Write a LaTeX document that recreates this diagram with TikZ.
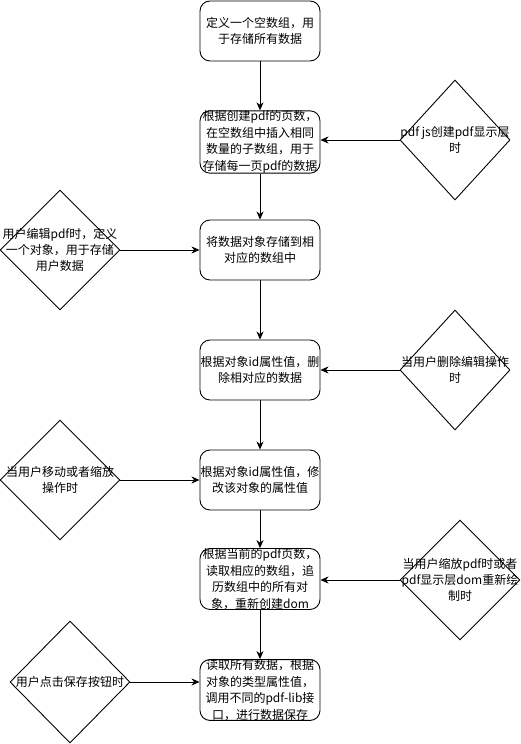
\documentclass[tikz,border=0pt]{standalone}
\usepackage{fontspec}
\setmainfont{Noto Sans CJK SC}
\usetikzlibrary{arrows.meta,shapes.geometric}

\begin{document}
\begin{tikzpicture}[x=1pt,y=-1pt,line width=0.9pt,
    box/.style={draw,rounded corners=10pt,minimum width=120pt,minimum height=60pt,
        inner sep=0pt,align=center,font=\fontsize{12}{16.5}\selectfont},
    cond/.style={draw,diamond,minimum width=110pt,minimum height=120pt,inner sep=0pt},
    txt/.style={align=center,inner sep=0pt,font=\fontsize{12}{16}\selectfont},
    flow/.style={-{Stealth[length=8pt,width=7pt,inset=2.5pt]}}]
    \useasboundingbox (0,0) rectangle (521,744);

    % main column
    \node[box] (b1) at (260, 31) {定义一个空数组，用\\于存储所有数据};
    \node[box,minimum height=62pt] (b2) at (260,142) {根据创建pdf的页数，\\在空数组中插入相同\\数量的子数组，用于\\存储每一页pdf的数据};
    \node[box] (b3) at (260,250) {将数据对象存储到相\\对应的数组中};
    \node[box] (b4) at (260,370) {根据对象id属性值，删\\除相对应的数据};
    \node[box] (b5) at (260,480) {根据对象id属性值，修\\改该对象的属性值};
    \node[box] (b6) at (260,579) {根据当前的pdf页数，\\读取相应的数组，追\\历数组中的所有对\\象，重新创建dom};
    \node[box] (b7) at (260,690) {读取所有数据，根据\\对象的类型属性值，\\调用不同的pdf-lib接\\口，进行数据保存};

    % conditions
    \node[cond] (r1) at (455,140) {};
    \node[cond,minimum width=120pt] (l1) at ( 60,250) {};
    \node[cond] (r2) at (455,370) {};
    \node[cond,minimum width=120pt] (l2) at ( 60,480) {};
    \node[cond,minimum width=120pt] (r3) at (460,580) {};
    \node[cond,minimum width=120pt,minimum height=122pt] (l3) at ( 70,682) {};

    \node[txt] (t1) at (r1) {pdf js创建pdf显示层\\时};
    \node[txt] (t2) at (l1) {用户编辑pdf时，定义\\一个对象，用于存储\\用户数据};
    \node[txt] (t3) at (r2) {当用户删除编辑操作\\时};
    \node[txt] (t4) at (l2) {当用户移动或者缩放\\操作时};
    \node[txt] (t5) at (r3) {当用户缩放pdf时或者\\pdf显示层dom重新绘\\制时};
    \node[txt] (t6) at (l3) {用户点击保存按钮时};

    \draw[flow] (b1) -- (b2);
    \draw[flow] (b2) -- (b3);
    \draw[flow] (b3) -- (b4);
    \draw[flow] (b4) -- (b5);
    \draw[flow] (b5) -- (b6);
    \draw[flow] (b6) -- (b7);

    \draw[flow] (r1.west) -- (r1.west -| b2.east);
    \draw[flow] (l1.east) -- (l1.east -| b3.west);
    \draw[flow] (r2.west) -- (r2.west -| b4.east);
    \draw[flow] (l2.east) -- (l2.east -| b5.west);
    \draw[flow] (r3.west) -- (r3.west -| b6.east);
    \draw[flow] (l3.east) -- (l3.east -| b7.west);
\end{tikzpicture}
\end{document}
